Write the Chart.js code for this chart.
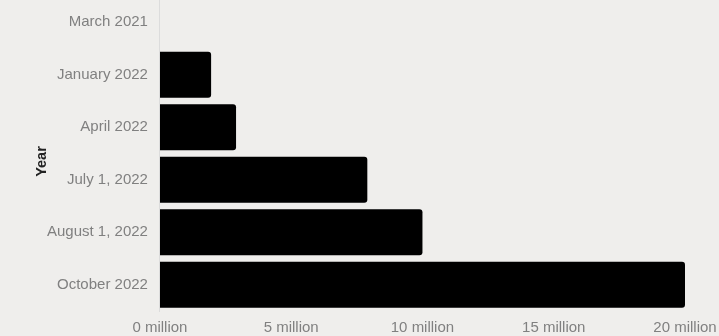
<!DOCTYPE html>
<html>
<head>
<meta charset="utf-8">
<script src="https://cdn.jsdelivr.net/npm/chart.js@4.4.1/dist/chart.umd.min.js"></script>
<style>
  html, body {
    margin: 0;
    padding: 0;
    width: 719px;
    height: 336px;
    overflow: hidden;
    background: #efeeec;
  }
  #wrap {
    position: absolute;
    left: 0;
    top: -17px;
    width: 719px;
    height: 358px;
  }
</style>
</head>
<body>
<div id="wrap"><canvas id="yearChart"></canvas></div>
<script>
// Data
const categories = ["March 2021", "January 2022", "April 2022", "July 1, 2022", "August 1, 2022", "October 2022"];
const values = [0, 1.95, 2.9, 7.9, 10, 20]; // millions
const xTicks = [0, 5, 10, 15, 20];
const yTitle = "Year";

// y axis title sits a bit below the middle of the plot, so draw it by hand
const yTitlePlugin = {
  id: "yTitle",
  afterDraw(chart) {
    const c = chart.ctx;
    const area = chart.chartArea;
    c.save();
    c.translate(42, (area.top + area.bottom) / 2 + 8);
    c.rotate(-Math.PI / 2);
    c.font = "bold 14.5px 'Liberation Sans'";
    c.fillStyle = "#222222";
    c.textAlign = "center";
    c.textBaseline = "middle";
    c.fillText(yTitle, 0, 0);
    c.restore();
  },
};

document.addEventListener("DOMContentLoaded", function () {
  const ctx = document.getElementById("yearChart").getContext("2d");
  new Chart(ctx, {
    type: "bar",
    data: {
      labels: categories,
      datasets: [
        {
          data: values,
          backgroundColor: "#000000",
          borderRadius: 3,
          borderSkipped: "start",
          barPercentage: 0.88,
          categoryPercentage: 1,
        },
      ],
    },
    plugins: [yTitlePlugin],
    options: {
      indexAxis: "y",
      responsive: true,
      maintainAspectRatio: false,
      animation: false,
      layout: {
        padding: { left: 43, right: 34, top: 0, bottom: 4 },
      },
      plugins: {
        legend: { display: false },
        tooltip: { enabled: false },
      },
      scales: {
        x: {
          min: 0,
          max: 20,
          afterBuildTicks: function (scale) {
            scale.ticks = xTicks.map((v) => ({ value: v }));
          },
          grid: { display: false },
          border: { display: false },
          ticks: {
            color: "#808080",
            font: { family: "Liberation Sans", size: 15 },
            padding: 0,
            maxRotation: 0,
            callback: (v) => v + " million",
          },
        },
        y: {
          grid: { display: false },
          border: { display: true, color: "#dcdcdc", width: 1 },
          ticks: {
            color: "#808080",
            font: { family: "Liberation Sans", size: 15 },
            padding: 4,
          },
        },
      },
    },
  });
});
</script>
</body>
</html>
